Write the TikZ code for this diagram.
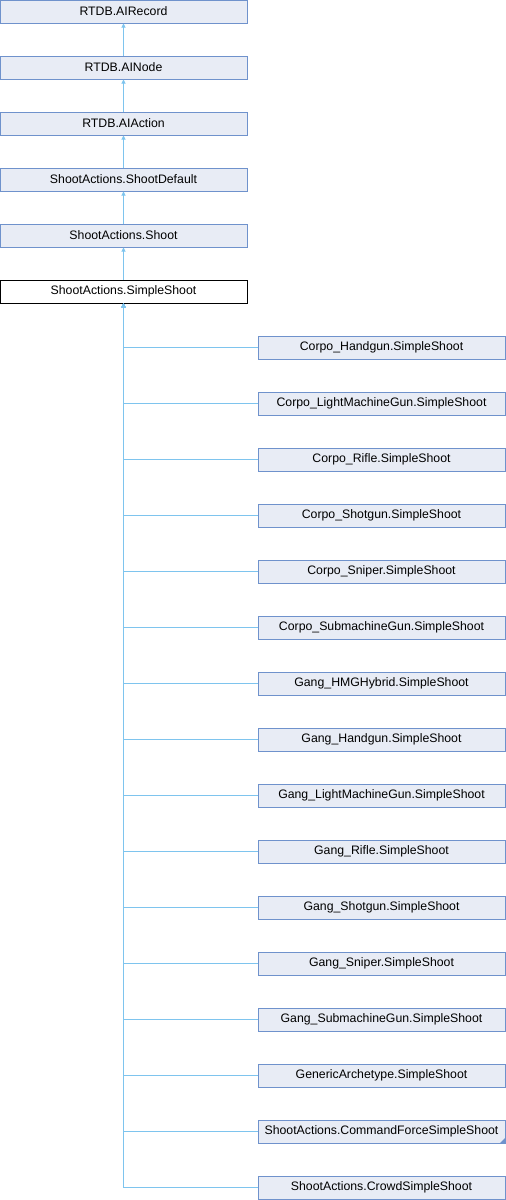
\documentclass[tikz,border=0pt]{standalone}
\usepackage{fontspec}
\setmainfont{Liberation Sans}
\usepackage{xcolor}
\usepackage{tikz}
\usetikzlibrary{positioning,calc,arrows.meta}

\definecolor{boxfill}{HTML}{E8ECF5}
\definecolor{boxedge}{HTML}{6F92CC}
\definecolor{linkblue}{HTML}{7EC4EE}

\tikzset{
    classbox/.style={draw=boxedge, fill=boxfill, line width=1pt, minimum width=247pt,
        minimum height=23pt, inner sep=0pt, font=\fontsize{12.3}{14}\selectfont},
    mainbox/.style={classbox, draw=black, fill=white},
    inherit/.style={draw=linkblue, line width=1.1pt, -{Triangle[length=4pt,width=4pt]}}
}

\begin{document}
\begin{tikzpicture}[x=1pt, y=-1pt]
    \useasboundingbox (0, 0) rectangle (506, 1200);

    % base chain
    \node[classbox] (record) at (123.5, 11.5) {RTDB.AIRecord};
    \node[classbox] (ainode) at (123.5, 67.5) {RTDB.AINode};
    \node[classbox] (action) at (123.5, 123.5) {RTDB.AIAction};
    \node[classbox] (shootdef) at (123.5, 179.5) {ShootActions.ShootDefault};
    \node[classbox] (shoot) at (123.5, 235.5) {ShootActions.Shoot};
    \node[mainbox] (simple) at (123.5, 291.5) {ShootActions.SimpleShoot};

    \draw[inherit] (ainode) -- (record);
    \draw[inherit] (action) -- (ainode);
    \draw[inherit] (shootdef) -- (action);
    \draw[inherit] (shoot) -- (shootdef);
    \draw[inherit] (simple) -- (shoot);

    % derived classes
    \node[classbox] (cphand) at (381.5, 347.5) {Corpo\_Handgun.SimpleShoot};
    \node[classbox] (cplmg) at (381.5, 403.5) {Corpo\_LightMachineGun.SimpleShoot};
    \node[classbox] (cprifle) at (381.5, 459.5) {Corpo\_Rifle.SimpleShoot};
    \node[classbox] (cpshot) at (381.5, 515.5) {Corpo\_Shotgun.SimpleShoot};
    \node[classbox] (cpsnip) at (381.5, 571.5) {Corpo\_Sniper.SimpleShoot};
    \node[classbox] (cpsmg) at (381.5, 627.5) {Corpo\_SubmachineGun.SimpleShoot};
    \node[classbox] (ghmg) at (381.5, 683.5) {Gang\_HMGHybrid.SimpleShoot};
    \node[classbox] (ghand) at (381.5, 739.5) {Gang\_Handgun.SimpleShoot};
    \node[classbox] (glmg) at (381.5, 795.5) {Gang\_LightMachineGun.SimpleShoot};
    \node[classbox] (grifle) at (381.5, 851.5) {Gang\_Rifle.SimpleShoot};
    \node[classbox] (gshot) at (381.5, 907.5) {Gang\_Shotgun.SimpleShoot};
    \node[classbox] (gsnip) at (381.5, 963.5) {Gang\_Sniper.SimpleShoot};
    \node[classbox] (gsmg) at (381.5, 1019.5) {Gang\_SubmachineGun.SimpleShoot};
    \node[classbox] (generic) at (381.5, 1075.5) {GenericArchetype.SimpleShoot};
    \node[classbox] (cmdforce) at (381.5, 1131.5) {ShootActions.CommandForceSimpleShoot};
    \node[classbox] (crowd) at (381.5, 1187.5) {ShootActions.CrowdSimpleShoot};

    % folded corner
    \fill[boxedge] (cmdforce.south east) -- ++(-6, 0) -- ++(6, -6) -- cycle;

    \draw[inherit] (cphand.west) -| (simple.south);
    \draw[inherit] (cplmg.west) -| (simple.south);
    \draw[inherit] (cprifle.west) -| (simple.south);
    \draw[inherit] (cpshot.west) -| (simple.south);
    \draw[inherit] (cpsnip.west) -| (simple.south);
    \draw[inherit] (cpsmg.west) -| (simple.south);
    \draw[inherit] (ghmg.west) -| (simple.south);
    \draw[inherit] (ghand.west) -| (simple.south);
    \draw[inherit] (glmg.west) -| (simple.south);
    \draw[inherit] (grifle.west) -| (simple.south);
    \draw[inherit] (gshot.west) -| (simple.south);
    \draw[inherit] (gsnip.west) -| (simple.south);
    \draw[inherit] (gsmg.west) -| (simple.south);
    \draw[inherit] (generic.west) -| (simple.south);
    \draw[inherit] (cmdforce.west) -| (simple.south);
    \draw[inherit] (crowd.west) -| (simple.south);
\end{tikzpicture}
\end{document}
